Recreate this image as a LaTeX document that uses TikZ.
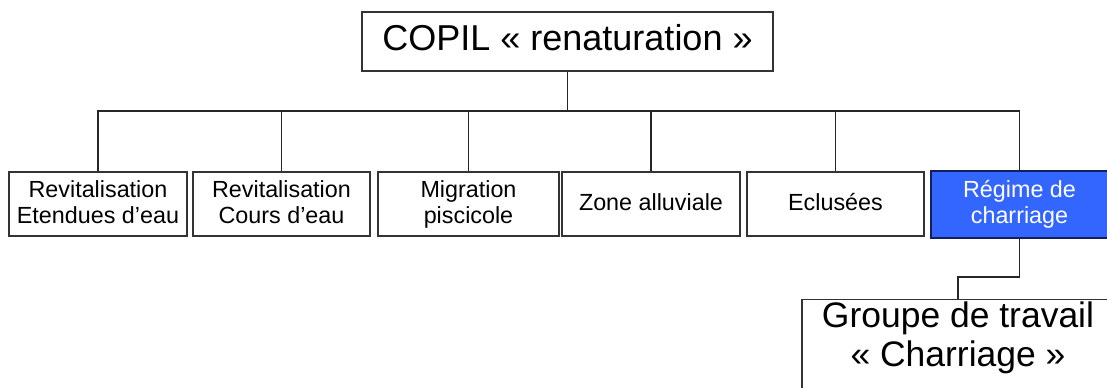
\documentclass[tikz,border=0pt]{standalone}
\usepackage{fontspec}
\setmainfont{Liberation Sans}
\definecolor{regime}{RGB}{51,102,255}
\definecolor{navy}{RGB}{20,30,90}
\newcommand\mydesc{\vphantom{g}}
\begin{document}
\begin{tikzpicture}[x=0.75pt,y=-0.75pt,
  box/.style={draw=black!80, line width=1pt, rectangle, inner sep=0pt, align=center,
    font=\fontsize{17.5}{19.5}\selectfont, minimum height=48pt},
  bigtext/.style={font=\fontsize{26.6}{29.5}\selectfont},
  conn/.style={draw=black!85, line width=0.9pt}]
\useasboundingbox (0,0) rectangle (1107,387);
\fill[white] (0,0) rectangle (1107,387);
\clip (0,0) rectangle (1107,387);

\node[box, bigtext, minimum width=308.25pt, minimum height=44.25pt,
  font=\fontsize{27}{30}\selectfont]
  (copil) at (567.5,41.5) {COPIL « renaturation »\mydesc};

\node[box, minimum width=133.5pt]  (b1) at (98,204)    {Revitalisation\\Etendues d’eau\mydesc};
\node[box, minimum width=132.75pt] (b2) at (281.5,204) {Revitalisation\\Cours d’eau\mydesc};
\node[box, minimum width=135.75pt] (b3) at (468.5,204) {Migration\\piscicole\mydesc};
\node[box, minimum width=133.5pt]  (b4) at (651,204)   {Zone alluviale\mydesc};
\node[box, minimum width=132.75pt] (b5) at (835.5,204) {Eclusées\mydesc};
\node[box, minimum width=132.75pt, minimum height=50.25pt, fill=regime, draw=navy,
  line width=1.6pt, text=white] (b6) at (1019.5,204.5) {Régime de\\charriage\mydesc};

\node[box, bigtext, anchor=north, minimum width=234pt, inner ysep=1.6pt]
  (gt) at (958,299) {Groupe de travail\\« Charriage »\rule[-40pt]{0pt}{40pt}};

\coordinate (bus) at (567.5,111);
\coordinate (elbow) at (958,277);
\draw[conn] (copil.south) -- (bus);
\draw[conn] (b1.north) |- (b6.north |- bus) -- (b6.north);
\foreach \n in {b2,b3,b4,b5} \draw[conn] (\n.north) -- (\n.north |- bus);
\draw[conn] (b6.south) |- (elbow) -- (gt.north);
\end{tikzpicture}
\end{document}
